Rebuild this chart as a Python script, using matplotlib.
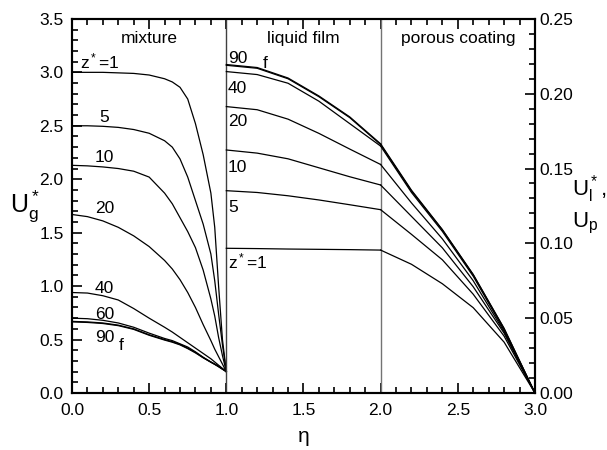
import matplotlib
matplotlib.use("Agg")
import matplotlib.pyplot as plt
from matplotlib.ticker import MultipleLocator

plt.rcParams['font.family'] = ['Liberation Sans', 'DejaVu Sans']
plt.rcParams['mathtext.fontset'] = 'custom'
plt.rcParams['mathtext.rm'] = 'Liberation Sans'
plt.rcParams['mathtext.it'] = 'Liberation Sans'

# gas velocity in the mixture region (left axis)
eta_mix = [0.0, 0.1, 0.2, 0.3, 0.4, 0.5, 0.6, 0.65, 0.7, 0.75, 0.8, 0.85, 0.9, 0.925, 0.95, 0.975, 1.0]
ug_z1 = [3.0, 3.0, 3.0, 2.995, 2.99, 2.975, 2.94, 2.91, 2.86, 2.75, 2.52, 2.23, 1.87, 1.55, 1.0, 0.5, 0.2]
ug_z5 = [2.5, 2.5, 2.495, 2.485, 2.465, 2.43, 2.36, 2.30, 2.19, 2.02, 1.80, 1.58, 1.30, 1.05, 0.74, 0.45, 0.2]
ug_z10 = [2.13, 2.125, 2.115, 2.10, 2.075, 2.02, 1.87, 1.77, 1.64, 1.51, 1.36, 1.15, 0.88, 0.72, 0.52, 0.35, 0.2]
ug_z20 = [1.67, 1.65, 1.61, 1.55, 1.47, 1.37, 1.24, 1.16, 1.06, 0.94, 0.80, 0.64, 0.49, 0.41, 0.34, 0.27, 0.2]
ug_z40 = [0.94, 0.935, 0.91, 0.87, 0.79, 0.70, 0.615, 0.57, 0.52, 0.47, 0.42, 0.37, 0.32, 0.29, 0.26, 0.23, 0.2]
ug_z60 = [0.70, 0.695, 0.68, 0.655, 0.615, 0.56, 0.51, 0.49, 0.46, 0.43, 0.385, 0.335, 0.29, 0.27, 0.25, 0.225, 0.2]
ug_z90 = [0.67, 0.665, 0.655, 0.635, 0.60, 0.545, 0.50, 0.48, 0.455, 0.42, 0.38, 0.33, 0.29, 0.27, 0.248, 0.224, 0.2]
ug_f = [0.665, 0.66, 0.65, 0.63, 0.595, 0.54, 0.495, 0.475, 0.45, 0.415, 0.375, 0.33, 0.287, 0.267, 0.245, 0.222, 0.2]

# liquid film velocity (right axis)
eta_film = [1.0, 1.2, 1.4, 1.6, 1.8, 2.0]
ul_z1 = [0.0967, 0.0965, 0.0962, 0.0960, 0.0958, 0.0955]
ul_z5 = [0.1352, 0.1340, 0.1318, 0.1290, 0.1258, 0.1225]
ul_z10 = [0.1624, 0.1603, 0.1565, 0.1505, 0.1445, 0.139]
ul_z20 = [0.1914, 0.1893, 0.1830, 0.1735, 0.1630, 0.1527]
ul_z40 = [0.2148, 0.2128, 0.2070, 0.1950, 0.1800, 0.165]
ul_z90 = [0.2190, 0.2170, 0.2100, 0.1980, 0.1840, 0.166]
ul_f = [0.2195, 0.2175, 0.2105, 0.1985, 0.1845, 0.1665]

# porous coating velocity (right axis)
eta_por = [2.0, 2.2, 2.4, 2.6, 2.8, 3.0]
up_z1 = [0.0955, 0.086, 0.073, 0.057, 0.034, 0.0]
up_z5 = [0.1225, 0.106, 0.089, 0.066, 0.038, 0.0]
up_z10 = [0.139, 0.118, 0.097, 0.071, 0.040, 0.0]
up_z20 = [0.1527, 0.127, 0.103, 0.075, 0.041, 0.0]
up_z40 = [0.165, 0.134, 0.108, 0.078, 0.042, 0.0]
up_z90 = [0.166, 0.135, 0.109, 0.079, 0.043, 0.0]
up_f = [0.1665, 0.1355, 0.1092, 0.0792, 0.0432, 0.0]

fs = 12.5

fig = plt.figure(figsize=(6.07, 4.5), dpi=100)
ax = fig.add_axes([0.1186, 0.1267, 0.7627, 0.8313])
ax2 = ax.twinx()

for u in [ug_z1, ug_z5, ug_z10, ug_z20, ug_z40, ug_z60, ug_z90, ug_f]:
    ax.plot(eta_mix, u, color='black', lw=0.9)
for u in [ul_z1, ul_z5, ul_z10, ul_z20, ul_z40, ul_z90, ul_f]:
    ax2.plot(eta_film, u, color='black', lw=0.9)
for u in [up_z1, up_z5, up_z10, up_z20, up_z40, up_z90, up_f]:
    ax2.plot(eta_por, u, color='black', lw=0.9)

ax.axvline(1.0, color='0.25', lw=1.0)
ax.axvline(2.0, color='0.45', lw=1.0)

ax.set_xlim(0, 3)
ax.set_ylim(0, 3.5)
ax2.set_ylim(0, 0.25)

ax.xaxis.set_major_locator(MultipleLocator(0.5))
ax.xaxis.set_minor_locator(MultipleLocator(0.1))
ax.yaxis.set_major_locator(MultipleLocator(0.5))
ax.yaxis.set_minor_locator(MultipleLocator(0.1))
ax2.yaxis.set_major_locator(MultipleLocator(0.05))
ax2.yaxis.set_minor_locator(MultipleLocator(0.01))
ax.xaxis.set_major_formatter('{x:.1f}')
ax.yaxis.set_major_formatter('{x:.1f}')
ax2.yaxis.set_major_formatter('{x:.2f}')

ax.tick_params(which='both', direction='in', top=True, width=1.2, labelsize=fs)
ax.tick_params(which='major', length=7)
ax.tick_params(which='minor', length=4)
ax.tick_params(axis='x', pad=7)
ax.tick_params(axis='y', pad=6)
ax2.tick_params(which='both', direction='in', width=1.2, labelsize=fs, pad=3)
ax2.tick_params(which='major', length=7)
ax2.tick_params(which='minor', length=4)
for a in (ax, ax2):
    for s in a.spines.values():
        s.set_linewidth(1.5)

ax.set_xlabel(r'$\mathregular{\eta}$', fontsize=15, labelpad=8)
fig.text(0.016, 0.542, r'$\mathregular{U_g^*}$', fontsize=18, va='center', ha='left')
fig.text(0.942, 0.545, r'$\mathregular{U_l^*}$,' + '\n' + r'$\mathregular{U_p}$',
         fontsize=16, va='center', ha='left', linespacing=1.35)

# region titles
ax.text(0.5, 3.32, 'mixture', fontsize=fs, ha='center', va='center')
ax.text(1.5, 3.32, 'liquid film', fontsize=fs, ha='center', va='center')
ax.text(2.5, 3.32, 'porous coating', fontsize=fs, ha='center', va='center')

# curve labels, mixture side
ax.text(0.05, 3.1, r'$\mathregular{z^*}$=1', fontsize=fs, ha='left', va='center')
ax.text(0.21, 2.58, '5', fontsize=fs, ha='center', va='center')
ax.text(0.21, 2.20, '10', fontsize=fs, ha='center', va='center')
ax.text(0.21, 1.73, '20', fontsize=fs, ha='center', va='center')
ax.text(0.21, 0.98, '40', fontsize=fs, ha='center', va='center')
ax.text(0.21, 0.73, '60', fontsize=fs, ha='center', va='center')
ax.text(0.21, 0.52, '90', fontsize=fs, ha='center', va='center')
ax.text(0.32, 0.44, 'f', fontsize=fs, ha='center', va='center')

# curve labels, liquid film side
ax.text(1.01, 3.13, '90', fontsize=fs, ha='left', va='center')
ax.text(1.25, 3.08, 'f', fontsize=fs, ha='center', va='center')
ax.text(1.01, 2.85, '40', fontsize=fs, ha='left', va='center')
ax.text(1.01, 2.54, '20', fontsize=fs, ha='left', va='center')
ax.text(1.01, 2.11, '10', fontsize=fs, ha='left', va='center')
ax.text(1.01, 1.74, '5', fontsize=fs, ha='left', va='center')
ax.text(1.01, 1.235, r'$\mathregular{z^*}$=1', fontsize=fs, ha='left', va='center')

fig.savefig('out.png', dpi=100)
